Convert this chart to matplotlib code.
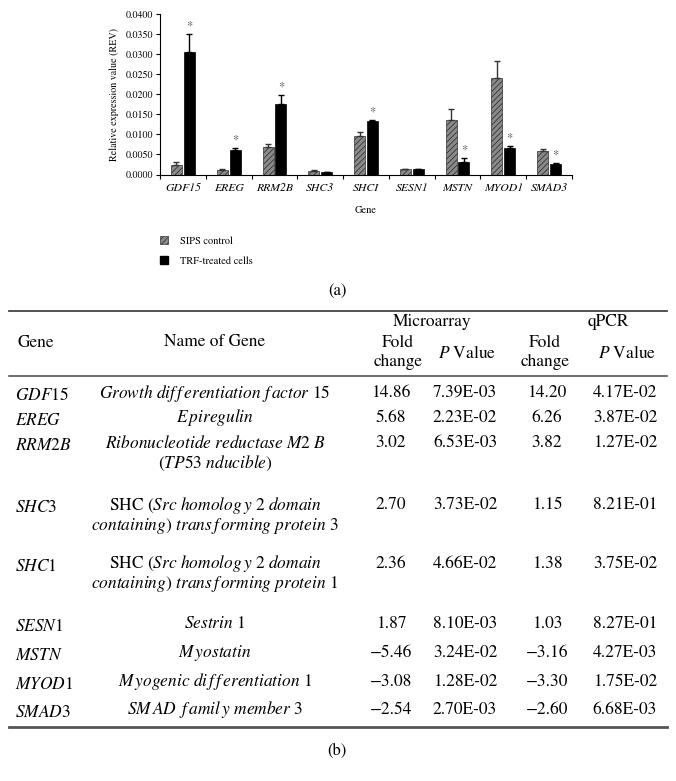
import numpy as np
import matplotlib
matplotlib.use('Agg')
import matplotlib.pyplot as plt
from matplotlib.patches import Patch

plt.rcParams['font.family'] = ['STIXGeneral', 'DejaVu Serif']
plt.rcParams['mathtext.fontset'] = 'stix'
plt.rcParams['hatch.linewidth'] = 0.6

# (a) 棒グラフのデータ
chart_genes = ['GDF15', 'EREG', 'RRM2B', 'SHC3', 'SHCI', 'SESN1', 'MSTN', 'MYOD1', 'SMAD3']
sips_rev = [0.0023, 0.0011, 0.0069, 0.0008, 0.0096, 0.0013, 0.0136, 0.0241, 0.0058]
sips_err = [0.0007, 0.0002, 0.0007, 0.0004, 0.0011, 0.0001, 0.0026, 0.0041, 0.0006]
trf_rev = [0.0306, 0.0061, 0.0176, 0.0006, 0.0133, 0.0013, 0.0032, 0.0067, 0.0025]
trf_err = [0.0043, 0.0005, 0.0021, 0.0000, 0.0002, 0.0001, 0.0008, 0.0005, 0.0003]
trf_star = [True, True, True, False, True, False, True, True, True]
yticks = [0.0, 0.005, 0.010, 0.015, 0.020, 0.025, 0.030, 0.035, 0.040]

# (b) 表のデータ
tbl_genes = ['$GDF$15', '$EREG$', '$RRM2B$', '$SHC$3', '$SHC$1', '$SESN$1', '$MSTN$', '$MYOD$1', '$SMAD$3']
tbl_names = [
    [r'$Growth\ dif\,f\,erentiation\ f\,actor$ 15'],
    [r'$E\,piregulin$'],
    [r'$Ribonucleotide\ reductase\ M2\ B$', r'($TP$53 $nducible$)'],
    [r'SHC ($Src\ homolog\,y$ 2 $domain$', r'$containing$) $trans\,f\,orming\ protein$ 3'],
    [r'SHC ($Src\ homolog\,y$ 2 $domain$', r'$containing$) $trans\,f\,orming\ protein$ 1'],
    [r'$Sestrin$ 1'],
    [r'$M\,yostatin$'],
    [r'$M\,yogenic\ di\,f\,f\,erentiation$ 1'],
    [r'$SM\,AD\ \,f\,amil\,y\ member$ 3'],
]
micro_fc = ['14.86', '5.68', '3.02', '2.70', '2.36', '1.87', '\u22125.46', '\u22123.08', '\u22122.54']
micro_p = ['7.39E-03', '2.23E-02', '6.53E-03', '3.73E-02', '4.66E-02', '8.10E-03', '3.24E-02', '1.28E-02', '2.70E-03']
qpcr_fc = ['14.20', '6.26', '3.82', '1.15', '1.38', '1.03', '\u22123.16', '\u22123.30', '\u22122.60']
qpcr_p = ['4.17E-02', '3.87E-02', '1.27E-02', '8.21E-01', '3.75E-02', '8.27E-01', '4.27E-03', '1.75E-02', '6.68E-03']

W, H = 676, 781
fig = plt.figure(figsize=(W / 100, H / 100), dpi=100)

# 全体のオーバーレイ(ピクセル座標)
ov = fig.add_axes([0, 0, 1, 1])
ov.set_xlim(0, W)
ov.set_ylim(H, 0)
ov.axis('off')

# ---- (a) chart ----
ax = fig.add_axes([160 / W, 1 - 174.5 / H, 412 / W, 160.5 / H])
x = np.arange(len(chart_genes))
bw = 0.24
off = 0.14
ax.bar(x - off, sips_rev, bw, color='#8a8a8a', edgecolor='#333333', hatch='//////', linewidth=0.5, zorder=2)
ax.bar(x + off, trf_rev, bw, color='black', edgecolor='black', linewidth=0.5, zorder=2)
ax.errorbar(x - off, sips_rev, yerr=[np.zeros(len(x)), sips_err], fmt='none',
            ecolor='#333333', elinewidth=1.0, capsize=2, capthick=1.0, zorder=3)
ax.errorbar(x + off, trf_rev, yerr=[np.zeros(len(x)), trf_err], fmt='none',
            ecolor='black', elinewidth=1.0, capsize=2, capthick=1.0, zorder=3)
for i in range(len(x)):
    if trf_star[i]:
        ax.text(x[i] + off, trf_rev[i] + trf_err[i] + 0.0004, '*', ha='center', va='bottom',
                fontsize=9, color='#555555')

ax.set_xlim(-0.5, len(x) - 0.5)
ax.set_ylim(0, 0.04)
ax.set_yticks(yticks)
ax.set_yticklabels(['%.4f' % v for v in yticks], fontsize=7.2)
ax.set_xticks(x)
ax.set_xticklabels(chart_genes, fontsize=8.5, style='italic')
ax.set_xticks(np.arange(len(x) + 1) - 0.5, minor=True)
ax.tick_params(axis='x', which='major', length=0, pad=6)
ax.tick_params(axis='x', which='minor', length=3, width=0.8, direction='out')
ax.tick_params(axis='y', length=3, width=0.8, direction='out', pad=2)
ax.spines['top'].set_visible(False)
ax.spines['right'].set_visible(False)
ax.spines['left'].set_linewidth(0.8)
ax.spines['bottom'].set_linewidth(0.8)
ax.set_ylabel('Relative expression value (REV)', fontsize=7.2, labelpad=5)
ax.set_xlabel('Gene', fontsize=7.5, labelpad=9)

handles = [Patch(facecolor='#8a8a8a', edgecolor='#333333', hatch='//////', linewidth=0.5, label='SIPS control'),
           Patch(facecolor='black', edgecolor='black', label='TRF-treated cells')]
fig.legend(handles=handles, loc='upper left', bbox_to_anchor=(160 / W, 1 - 236 / H), frameon=False,
           fontsize=7.5, handlelength=0.8, handleheight=0.8, handletextpad=1.1, labelspacing=1.0,
           borderaxespad=0, borderpad=0)

ov.text(337, 291, '(a)', ha='center', va='center', fontsize=12)

# ---- (b) table ----
ov.plot([9, 667], [311, 311], color='#444444', lw=1.3)
ov.plot([9, 667], [376, 376], color='#444444', lw=1.1)
ov.plot([9, 667], [727, 727], color='#555555', lw=2.0)

hfs = 12.5
ov.text(17, 343, 'Gene', ha='left', va='center', fontsize=hfs)
ov.text(215, 342, 'Name of Gene', ha='center', va='center', fontsize=hfs)
ov.text(432, 322, 'Microarray', ha='center', va='center', fontsize=hfs)
ov.text(608, 322, 'qPCR', ha='center', va='center', fontsize=hfs)
for cx in [398, 545]:
    ov.text(cx, 343, 'Fold', ha='center', va='center', fontsize=hfs)
    ov.text(cx, 362, 'change', ha='center', va='center', fontsize=hfs)
for cx in [467, 627]:
    ov.text(cx, 353, '$P$ Value', ha='center', va='center', fontsize=hfs)

row_y = [393, 418, 443, 505, 564, 624, 653, 682, 710]
line_gap = 20.5
for i in range(len(tbl_genes)):
    y0 = row_y[i]
    ov.text(15, y0 + 3, tbl_genes[i], ha='left', va='center', fontsize=hfs)
    for k, line in enumerate(tbl_names[i]):
        ov.text(215, y0 + k * line_gap, line, ha='center', va='center', fontsize=hfs)
    ov.text(391, y0, micro_fc[i], ha='center', va='center', fontsize=hfs)
    ov.text(465, y0, micro_p[i], ha='center', va='center', fontsize=hfs)
    ov.text(547, y0, qpcr_fc[i], ha='center', va='center', fontsize=hfs)
    ov.text(625, y0, qpcr_p[i], ha='center', va='center', fontsize=hfs)

ov.text(337, 751, '(b)', ha='center', va='center', fontsize=12)

fig.savefig('out.png', dpi=100)
